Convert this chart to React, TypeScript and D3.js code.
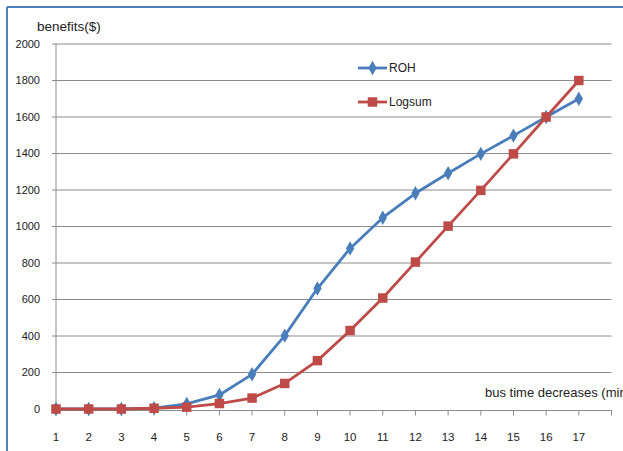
import React from 'react';
import * as d3 from 'd3';

const categories = [1, 2, 3, 4, 5, 6, 7, 8, 9, 10, 11, 12, 13, 14, 15, 16, 17];
const rohValues = [0, 0, 0, 5, 28, 77, 190, 402, 660, 880, 1048, 1182, 1292, 1398, 1498, 1600, 1700];
const logsumValues = [0, 0, 0, 4, 10, 30, 60, 140, 265, 430, 608, 805, 1002, 1198, 1398, 1600, 1800];
const yTicks = [0, 200, 400, 600, 800, 1000, 1200, 1400, 1600, 1800, 2000];

const width = 623;
const height = 451;
const margin = { top: 44, right: 11.5, bottom: 42, left: 56 };

const BLUE = '#4a7ebb';
const RED = '#be4b48';
const FONT = '"Liberation Sans", Arial, sans-serif';

const App = () => {
  const xScale = d3.scaleLinear()
    .domain([1, 18])
    .range([margin.left, width - margin.right]);

  const yScale = d3.scaleLinear()
    .domain([0, 2000])
    .range([409, margin.top]);

  const axisY = 410.5;

  const line = d3.line<number>()
    .x((_, i) => xScale(categories[i]))
    .y(d => yScale(d));

  const diamond = d3.symbol().type(d3.symbolDiamond).size(60)();
  const square = d3.symbol().type(d3.symbolSquare).size(90)();

  const xTickVals = d3.range(1, 19);

  return (
    <svg width={width} height={height}
      style={{ position: 'absolute', left: 0, top: 0, background: '#fff', fontFamily: FONT }}>
      {/* frame */}
      <line x1={7} x2={7} y1={7} y2={height} stroke="#4f81bd" strokeWidth={2} />
      <line x1={7} x2={width} y1={7} y2={7} stroke="#4f81bd" strokeWidth={2} />

      {/* gridlines + y labels */}
      {yTicks.map(t => (
        <g key={t}>
          {t > 0 && (
            <line x1={margin.left - 4} x2={xScale(18)} y1={yScale(t)} y2={yScale(t)}
              stroke="#8c8c8c" strokeWidth={1} />
          )}
          <text x={40} y={yScale(t)} dy="0.35em" textAnchor="end" fontSize={11} fill="#222">{t}</text>
        </g>
      ))}

      {/* y axis */}
      <line x1={margin.left} x2={margin.left} y1={margin.top} y2={axisY + 4} stroke="#8c8c8c" />
      <line x1={margin.left - 4} x2={margin.left} y1={axisY} y2={axisY} stroke="#8c8c8c" />

      {/* x axis */}
      <line x1={margin.left} x2={xScale(18)} y1={axisY} y2={axisY} stroke="#8c8c8c" />
      {xTickVals.map(t => (
        <line key={t} x1={xScale(t)} x2={xScale(t)} y1={axisY} y2={axisY + 5} stroke="#8c8c8c" />
      ))}
      {categories.map(c => (
        <text key={c} x={xScale(c)} y={437} dy="0.35em" textAnchor="middle" fontSize={11.5} fill="#222">{c}</text>
      ))}

      {/* titles */}
      <text x={37} y={26} dy="0.35em" fontSize={13.5} fill="#222">benefits($)</text>
      <text x={485} y={392} dy="0.35em" fontSize={13} fill="#222">bus time decreases (min)</text>

      {/* series */}
      <path d={line(rohValues) || ''} fill="none" stroke={BLUE} strokeWidth={2.8} strokeLinejoin="round" />
      {rohValues.map((v, i) => (
        <path key={i} d={diamond || ''} transform={`translate(${xScale(categories[i])},${yScale(v)})`} fill={BLUE} />
      ))}
      <path d={line(logsumValues) || ''} fill="none" stroke={RED} strokeWidth={2.8} strokeLinejoin="round" />
      {logsumValues.map((v, i) => (
        <path key={i} d={square || ''} transform={`translate(${xScale(categories[i])},${yScale(v)})`} fill={RED} />
      ))}

      {/* legend */}
      <g transform="translate(358,68)">
        <line x1={0} x2={29} y1={0} y2={0} stroke={BLUE} strokeWidth={2.8} />
        <path d={diamond || ''} transform="translate(14.5,0)" fill={BLUE} />
        <text x={31} y={0} dy="0.35em" fontSize={12} fill="#222">ROH</text>
      </g>
      <g transform="translate(358,102)">
        <line x1={0} x2={29} y1={0} y2={0} stroke={RED} strokeWidth={2.8} />
        <path d={square || ''} transform="translate(14.5,0)" fill={RED} />
        <text x={31} y={0} dy="0.35em" fontSize={12} fill="#222">Logsum</text>
      </g>
    </svg>
  );
};

export default App;
